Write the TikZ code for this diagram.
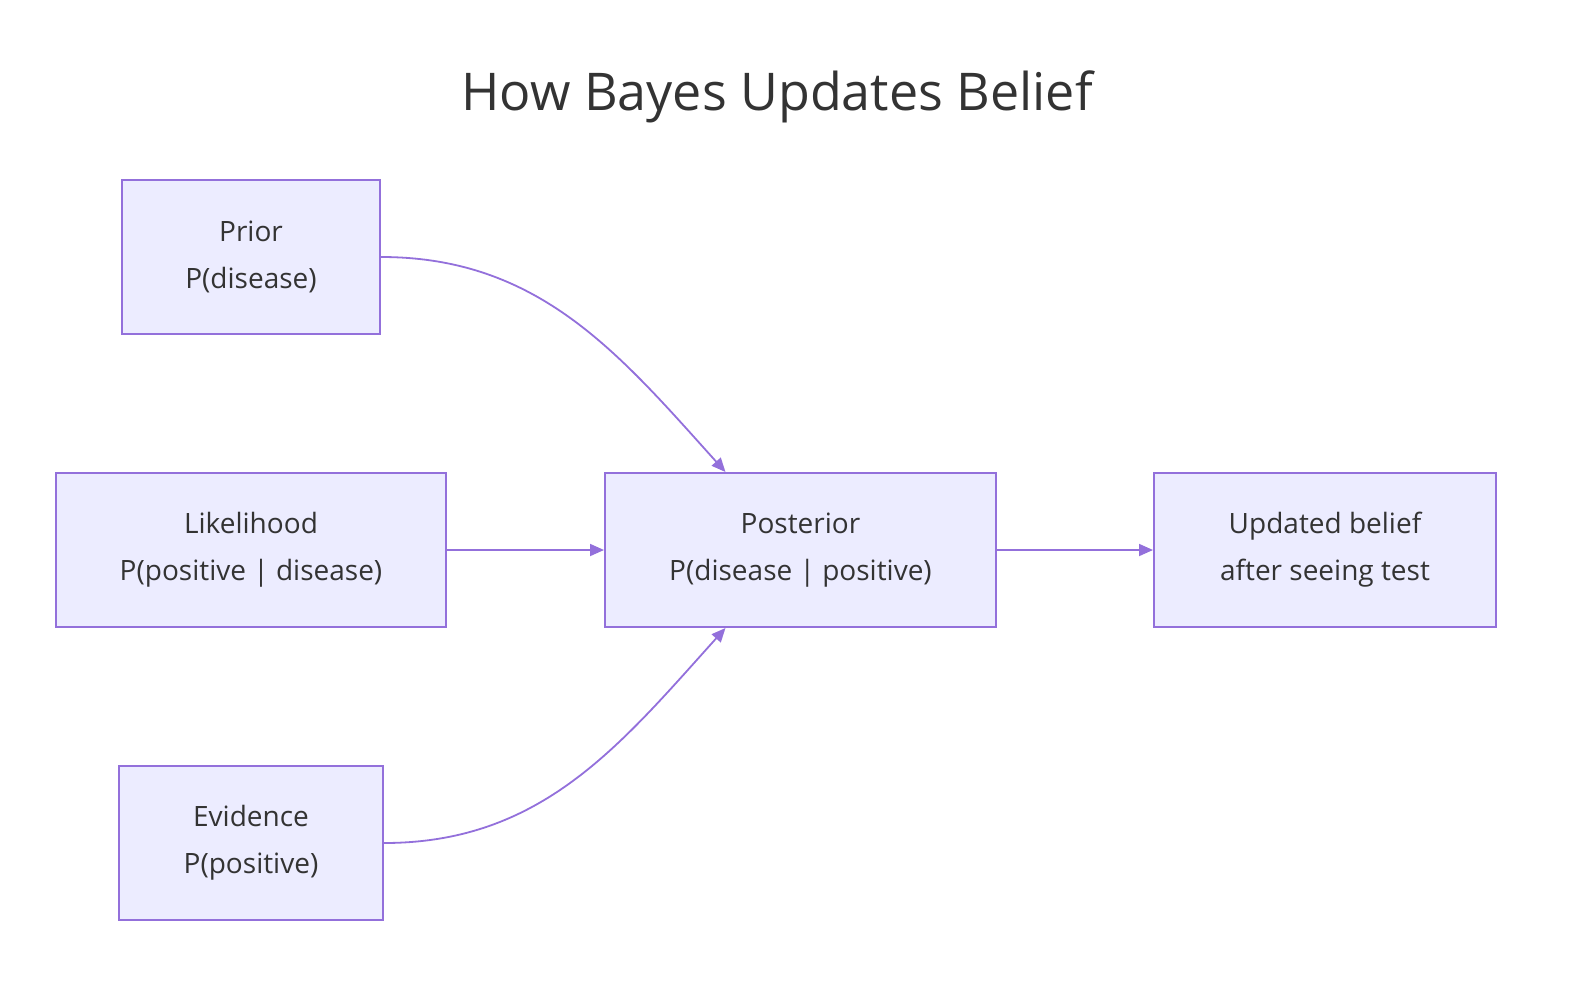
\documentclass[tikz,border=0pt]{standalone}
\usepackage{fontspec}
\setmainfont{Open Sans}
\usetikzlibrary{arrows.meta}
\definecolor{boxfill}{HTML}{ECECFF}
\definecolor{boxline}{HTML}{9370DB}
\definecolor{txt}{HTML}{333333}
\tikzset{
  box/.style={draw=boxline, fill=boxfill, line width=1pt, minimum height=77pt, align=center, text=txt, font=\fontsize{14}{23.5}\selectfont},
  link/.style={draw=boxline, line width=0.9pt, -{Triangle[length=7pt,width=6pt]}}
}
\begin{document}
\begin{tikzpicture}[x=0.5pt, y=-0.5pt]
		\useasboundingbox (0,0) rectangle (1570,986);
		%title
		\node[text=txt, font=\fontsize{26}{30}\selectfont] (title) at (777,97) {How Bayes Updates Belief};
		%left column
		\node[box, minimum width=129pt] (prior) at (251,257) {Prior\\P(disease)};
		\node[box, minimum width=195pt] (lik) at (251,550) {Likelihood\\P(positive | disease)};
		\node[box, minimum width=132pt] (evid) at (251,843) {Evidence\\P(positive)};
		%middle and right
		\node[box, minimum width=195.5pt] (post) at (800.5,550) {Posterior\\P(disease | positive)};
		\node[box, minimum width=171pt] (upd) at (1325,550) {Updated belief\\after seeing test};
		%arrows
		\draw[link] (prior.east) to [out=0, in=132] ([xshift=-37.5pt]post.north);
		\draw[link] (lik) -- (post);
		\draw[link] (evid.east) to [out=0, in=-132] ([xshift=-37.5pt]post.south);
		\draw[link] (post) -- (upd);
\end{tikzpicture}
\end{document}
